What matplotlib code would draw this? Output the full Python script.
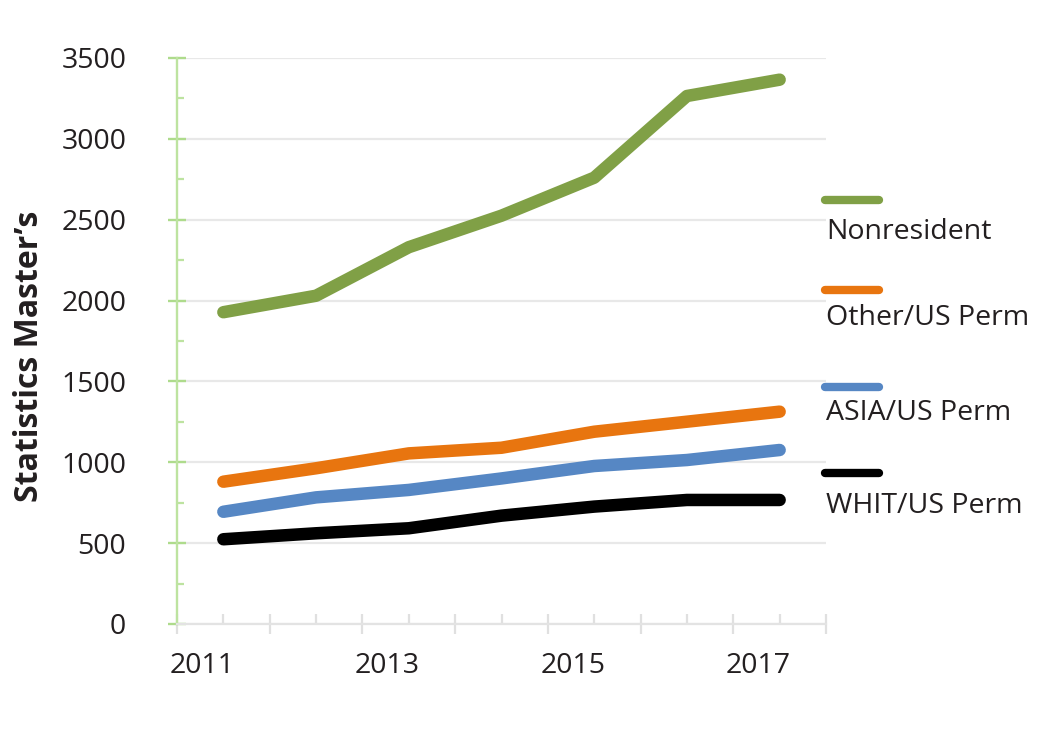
import matplotlib
matplotlib.use("Agg")
import matplotlib.pyplot as plt
from matplotlib.lines import Line2D

plt.rcParams['font.family'] = ['Open Sans', 'DejaVu Sans']

years = [2011, 2012, 2013, 2014, 2015, 2016, 2017]
labeled_years = [2011, 2013, 2015, 2017]
series_names = ["Nonresident", "Other/US Perm", "ASIA/US Perm", "WHIT/US Perm"]
nonresident = [1928, 2030, 2330, 2525, 2760, 3265, 3366]
other_us = [880, 963, 1055, 1090, 1189, 1251, 1313]
asia_us = [694, 783, 829, 900, 977, 1014, 1076]
whit_us = [524, 561, 592, 670, 726, 767, 767]
y_ticks = [0, 500, 1000, 1500, 2000, 2500, 3000, 3500]

colors = ["#80a046", "#e8750f", "#5687c4", "#000000"]
all_series = [nonresident, other_us, asia_us, whit_us]

fig = plt.figure(figsize=(10.42, 7.30), dpi=100)
W, H = 1042, 730
ax = fig.add_axes([177 / W, (H - 624) / H, (826 - 177) / W, (624 - 58) / H])

xpos = list(range(len(years)))
for vals, c in zip(all_series[::-1], colors[::-1]):
    ax.plot(xpos, vals, color=c, lw=9, solid_capstyle='round',
            solid_joinstyle='round', zorder=3, clip_on=False)

ax.set_xlim(-0.5, len(years) - 0.5)
ax.set_ylim(0, 3500)

# grid
ax.set_yticks(y_ticks)
ax.set_yticks([v + 250 for v in y_ticks[:-1]], minor=True)
ax.yaxis.grid(True, which='major', color='#e8e8e8', lw=1.6, zorder=0)
ax.set_axisbelow(True)

# spines
for s in ['top', 'right']:
    ax.spines[s].set_visible(False)
ax.spines['left'].set_color('#bde3a0')
ax.spines['left'].set_linewidth(1.7)
ax.spines['bottom'].set_color('#e3e3e3')
ax.spines['bottom'].set_linewidth(1.6)
ax.spines['left'].set_zorder(2.5)

# y ticks
ax.tick_params(axis='y', which='major', direction='inout', length=13,
               width=1.7, color='#aedb8c', pad=30, labelsize=20.5,
               labelcolor='#231f20')
ax.tick_params(axis='y', which='minor', direction='in', length=5,
               width=1.6, color='#bde3a0')
ax.set_yticklabels([str(v) for v in y_ticks])

# x ticks
ax.set_xticks([i - 0.5 for i in range(len(years) + 1)])
ax.set_xticks(xpos, minor=True)
ax.tick_params(axis='x', which='major', direction='inout', length=15,
               width=1.6, color='#e0e0e0', labelbottom=False)
ax.tick_params(axis='x', which='minor', direction='in', length=7,
               width=1.6, color='#e0e0e0')
trans = ax.get_xaxis_transform()
for yr in labeled_years:
    ax.text(years.index(yr) - 0.23, -0.075, str(yr), transform=trans,
            ha='center', va='center', fontsize=20.5, color='#231f20')

fig.text(30 / W, 1 - 356 / H, "Statistics Master\u2019s", rotation=90,
         ha='center', va='center', fontsize=23, fontweight='bold',
         color='#231f20')

# legend: handle above text
handle_y = [200, 290, 387, 473]
text_y = [232, 318, 413, 506]
for name, c, hy, ty in zip(series_names, colors, handle_y, text_y):
    fig.add_artist(Line2D([825 / W, 879 / W], [1 - hy / H, 1 - hy / H],
                          color=c, lw=6, solid_capstyle='round'))
    fig.text(826 / W, 1 - ty / H, name, ha='left', va='center',
             fontsize=20.5, color='#231f20')

fig.savefig("out.png", dpi=100, facecolor='white')
